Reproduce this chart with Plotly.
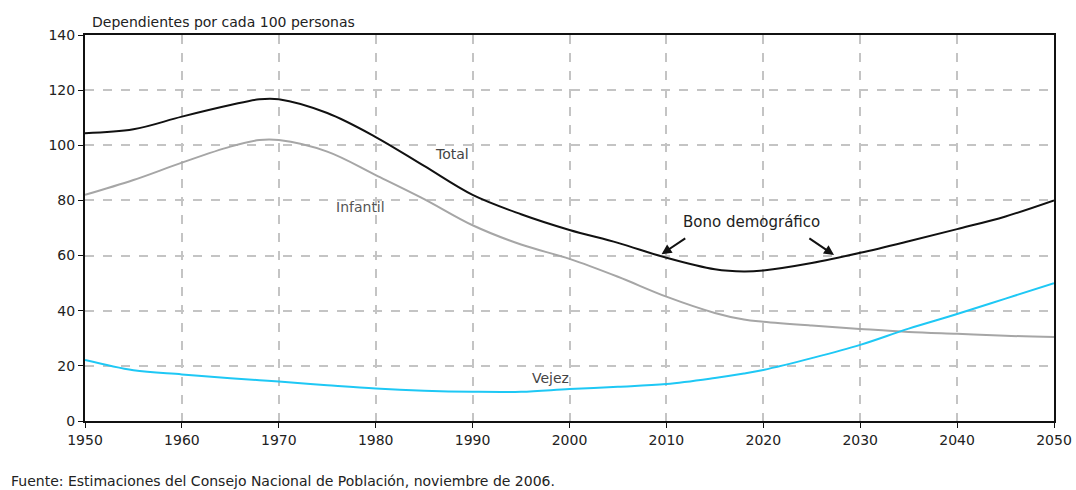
import plotly.graph_objects as go

years = [1950, 1955, 1960, 1965, 1968, 1970, 1975, 1980, 1985, 1990, 1995, 2000, 2005,
         2010, 2015, 2018, 2020, 2025, 2030, 2035, 2040, 2045, 2050]
total = [104.4, 105.8, 110.4, 114.6, 116.7, 116.7, 111.7, 103.0, 92.5, 82.0, 75.0, 69.3, 64.6,
         59.2, 55.0, 54.2, 54.6, 57.3, 61.0, 65.2, 69.6, 74.2, 80.0]
infantil = [82.0, 87.4, 93.7, 99.5, 101.9, 101.9, 97.7, 89.2, 80.5, 71.0, 64.0, 58.8, 52.3,
            45.1, 39.2, 36.8, 36.0, 34.6, 33.4, 32.3, 31.6, 30.9, 30.5]
vejez = [22.1, 18.4, 16.9, 15.5, 14.8, 14.3, 13.0, 11.8, 11.0, 10.6, 10.6, 11.6, 12.4,
         13.4, 15.6, 17.2, 18.5, 22.8, 27.6, 33.5, 38.8, 44.4, 50.0]

x_ticks = [1950, 1960, 1970, 1980, 1990, 2000, 2010, 2020, 2030, 2040, 2050]
y_ticks = [0, 20, 40, 60, 80, 100, 120, 140]

font = "DejaVu Sans, Liberation Sans, Arial, sans-serif"

fig = go.Figure()
fig.add_trace(go.Scatter(x=years, y=infantil, mode="lines", name="Infantil",
                         line=dict(color="#a6a6a6", width=2, shape="spline", smoothing=1.0)))
fig.add_trace(go.Scatter(x=years, y=vejez, mode="lines", name="Vejez",
                         line=dict(color="#1ec8f5", width=2, shape="spline", smoothing=1.0)))
fig.add_trace(go.Scatter(x=years, y=total, mode="lines", name="Total",
                         line=dict(color="#111111", width=2, shape="spline", smoothing=1.0)))

axis_common = dict(ticks="outside", ticklen=5, tickcolor="#111", showline=True,
                   linecolor="#111", linewidth=2, mirror=True, showgrid=True,
                   gridcolor="#c4c4c4", griddash="dash", gridwidth=1.5, zeroline=False,
                   automargin=False, tickfont=dict(size=14, color="#222"))

fig.update_layout(
    width=1076, height=490,
    margin=dict(l=85, r=22, t=35, b=69),
    paper_bgcolor="white", plot_bgcolor="white",
    showlegend=False,
    font=dict(family=font, size=14, color="#222222"),
    xaxis=dict(range=[1950, 2050], tickvals=x_ticks, **axis_common),
    yaxis=dict(range=[0, 140], tickvals=y_ticks, **axis_common),
)

fig.add_annotation(text="Dependientes por cada 100 personas", xref="paper", yref="paper",
                   x=0.005, y=1.0, xanchor="left", yanchor="bottom", showarrow=False,
                   font=dict(size=14, color="#222"), yshift=3)
fig.add_annotation(text="Total", x=1987.9, y=96.8, showarrow=False, font=dict(size=14, color="#444"))
fig.add_annotation(text="Infantil", x=1978.4, y=77.6, showarrow=False, font=dict(size=14, color="#555"))
fig.add_annotation(text="Bono demográfico", x=2018.8, y=72.2, showarrow=False,
                   font=dict(size=15, color="#222"))
fig.add_annotation(text="Vejez", x=1998.0, y=15.6, showarrow=False, font=dict(size=14, color="#444"))
fig.add_annotation(x=2009.5, y=60.5, ax=2012.1, ay=66.6, xref="x", yref="y", axref="x", ayref="y",
                   showarrow=True, arrowhead=2, arrowsize=1, arrowwidth=2, arrowcolor="#111", text="")
fig.add_annotation(x=2027.3, y=60.2, ax=2024.6, ay=66.6, xref="x", yref="y", axref="x", ayref="y",
                   showarrow=True, arrowhead=2, arrowsize=1, arrowwidth=2, arrowcolor="#111", text="")
fig.add_annotation(text="Fuente: Estimaciones del Consejo Nacional de Población, noviembre de 2006.",
                   xref="paper", yref="paper", x=-0.078, y=-0.155, xanchor="left", yanchor="middle",
                   showarrow=False, font=dict(size=14, color="#222"))

fig.write_html("out.html", config={"displayModeBar": False},
               post_script="document.body.style.margin='0';document.body.style.overflow='hidden';")
